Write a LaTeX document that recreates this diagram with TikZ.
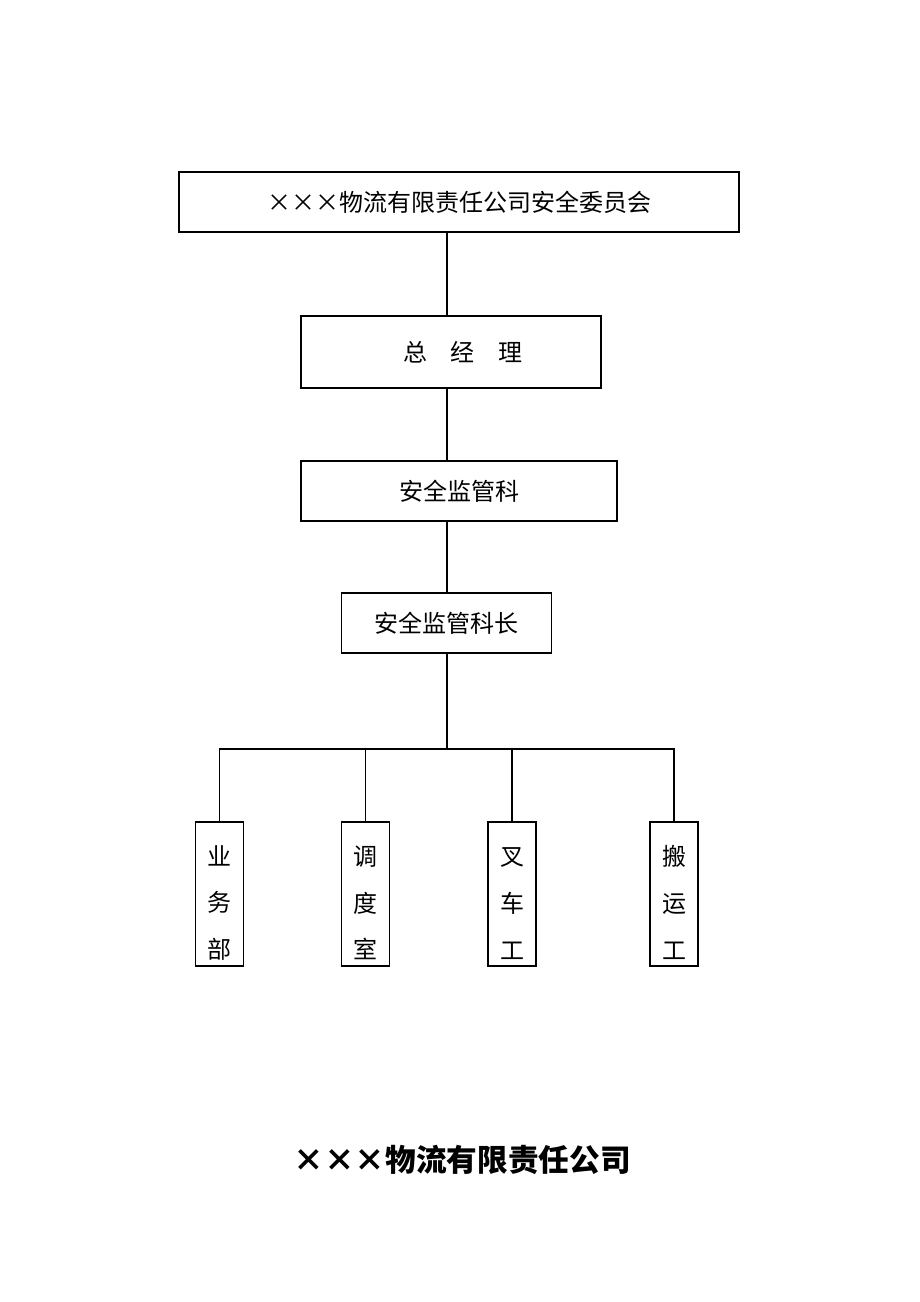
\documentclass[tikz,border=0pt]{standalone}
\usepackage{fontspec}
\setmainfont{Noto Sans CJK SC}
\usepackage{tikz}
\usetikzlibrary{positioning, calc}
\tikzstyle{myline}=[line width=0.9pt]
\newcommand{\topstrut}{\rule{0pt}{28pt}}

\begin{document}
\begin{tikzpicture}[x=0.75pt, y=-0.75pt]
            \tikzset {
                org node/.style={
                        draw,
                        line width=0.9pt,
                        font=\fontsize{18pt}{22pt}\selectfont,
                        align=center,
                        inner sep=0pt,
                        outer sep=0pt,
                        minimum height=45pt
                    },
                unit node/.style={
                        org node,
                        minimum width=36pt,
                        minimum height=108pt,
                        font=\fontsize{18pt}{35pt}\selectfont
                    }}

            \useasboundingbox (0,0) rectangle (920,1302);

            % top levels
            \node[org node, minimum width=420pt] (committee) at (459,202) {×××物流有限责任公司安全委员会};
            \node[org node, minimum width=225pt, minimum height=54pt] (manager) at (451,352) {\hspace{1em}总\hspace{1em}经\hspace{1em}理};
            \node[org node, minimum width=237pt] (safedept) at (459,491) {安全监管科};
            \node[org node, minimum width=158pt] (safechief) at (446.5,623) {安全监管科长};

            % units
            \node[unit node] (business) at (219.5,894) {\topstrut 业\\务\\部};
            \node[unit node] (dispatch) at (365.5,894) {\topstrut 调\\度\\室};
            \node[unit node] (forklift) at (512,894) {\topstrut 叉\\车\\工};
            \node[unit node] (porter) at (674,894) {\topstrut 搬\\运\\工};

            % footer
            \node[font=\fontsize{23pt}{28pt}\selectfont\bfseries] (company) at (462,1160) {×××物流有限责任公司};

            % spine
            \coordinate (spine) at (447,749);
            \draw[myline] (spine |- committee.south) -- (spine |- manager.north);
            \draw[myline] (spine |- manager.south) -- (spine |- safedept.north);
            \draw[myline] (spine |- safedept.south) -- (spine |- safechief.north);
            \draw[myline] (spine |- safechief.south) -- (spine);

            % bus
            \draw[myline] (business.north) -- (business.north |- spine) -- (porter.north |- spine) -- (porter.north);
            \draw[myline] (dispatch.north) -- (dispatch.north |- spine);
            \draw[myline] (forklift.north) -- (forklift.north |- spine);
        \end{tikzpicture}
\end{document}
